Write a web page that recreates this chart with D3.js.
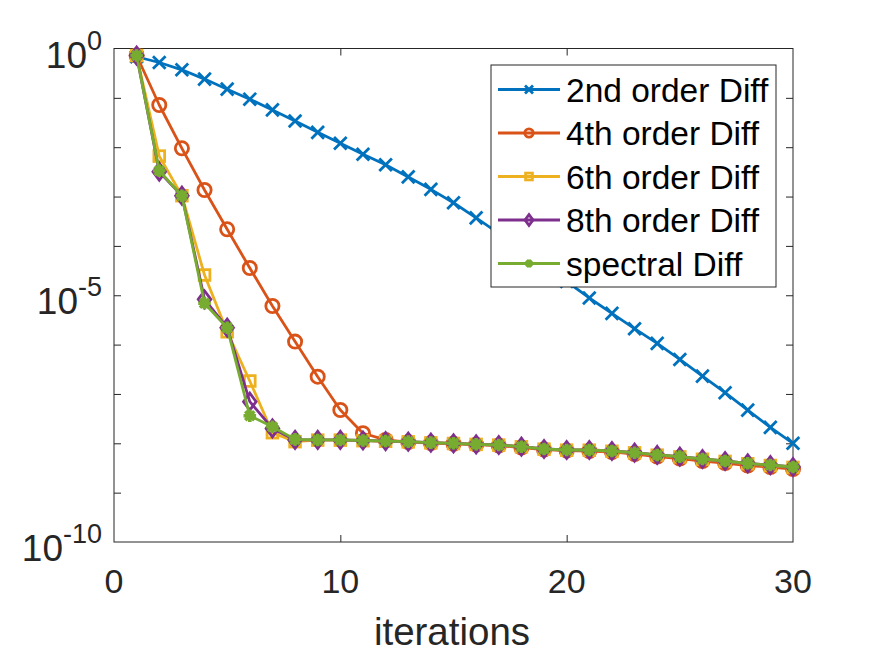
<!DOCTYPE html>
<html>
<head>
<meta charset="utf-8">
<script src="https://cdn.jsdelivr.net/npm/d3@7"></script>
<style>
  body { margin: 0; background: #fff; }
  svg { font-family: "Liberation Sans", Arial, sans-serif; }
</style>
</head>
<body>
<div id="chart"></div>
<script>
// Iterations (x values)
const iterations = [1, 2, 3, 4, 5, 6, 7, 8, 9, 10, 11, 12, 13, 14, 15, 16, 17, 18, 19, 20, 21, 22, 23, 24, 25, 26, 27, 28, 29, 30];

// Error per iteration
const diff2 = [0.68, 0.52, 0.37, 0.24, 0.15, 0.094, 0.057, 0.034, 0.020, 0.012, 7.2e-3, 4.4e-3, 2.5e-3, 1.4e-3, 7.5e-4,
  3.7e-4, 1.8e-4, 8.6e-5, 4.1e-5, 1.9e-5, 8.8e-6, 4.3e-6, 2.1e-6, 1.06e-6, 5.0e-7, 2.3e-7, 1.06e-7, 4.7e-8, 2.1e-8, 1.0e-8];
const diff4 = [0.72, 0.0716, 9.5e-3, 1.36e-3, 2.17e-4, 3.56e-5, 6.05e-6, 1.15e-6, 2.24e-7, 4.73e-8, 1.6e-8, 1.17e-8, 1.06e-8, 1.01e-8, 9.8e-9,
  9.37e-9, 9.02e-9, 8.22e-9, 7.48e-9, 7.08e-9, 6.98e-9, 6.67e-9, 6.07e-9, 5.4e-9, 4.92e-9, 4.38e-9, 3.99e-9, 3.55e-9, 3.31e-9, 3.01e-9];
const diff6 = [0.72, 6.6e-3, 1.04e-3, 2.57e-5, 1.82e-6, 1.83e-7, 1.64e-8, 1.08e-8, 1.16e-8, 1.16e-8, 1.13e-8, 1.1e-8, 1.07e-8, 1.02e-8, 9.9e-9,
  9.5e-9, 9.2e-9, 8.5e-9, 7.6e-9, 7.25e-9, 7.25e-9, 6.9e-9, 6.4e-9, 5.75e-9, 5.3e-9, 4.75e-9, 4.3e-9, 3.85e-9, 3.55e-9, 3.25e-9];
const diff8 = [0.72, 3.19e-3, 1.04e-3, 8.28e-6, 2.2e-6, 6.97e-8, 2.0e-8, 1.17e-8, 1.17e-8, 1.17e-8, 1.14e-8, 1.11e-8, 1.08e-8, 1.03e-8, 1.0e-8,
  9.55e-9, 9.24e-9, 8.53e-9, 7.67e-9, 7.32e-9, 7.32e-9, 6.98e-9, 6.45e-9, 5.8e-9, 5.36e-9, 4.81e-9, 4.38e-9, 3.93e-9, 3.63e-9, 3.31e-9];
const spectral = [0.72, 3.34e-3, 1.04e-3, 6.87e-6, 2.2e-6, 3.62e-8, 2.17e-8, 1.2e-8, 1.17e-8, 1.17e-8, 1.14e-8, 1.11e-8, 1.08e-8, 1.03e-8, 1.0e-8,
  9.55e-9, 9.24e-9, 8.53e-9, 7.67e-9, 7.32e-9, 7.32e-9, 6.98e-9, 6.45e-9, 5.8e-9, 5.36e-9, 4.81e-9, 4.38e-9, 3.93e-9, 3.63e-9, 3.31e-9];

const seriesNames = ["2nd order Diff", "4th order Diff", "6th order Diff", "8th order Diff", "spectral Diff"];
const seriesValues = [diff2, diff4, diff6, diff8, spectral];
const seriesColors = ["#0072BD", "#D95319", "#EDB120", "#7E2F8E", "#77AC30"];
const seriesMarkers = ["x", "circle", "square", "diamond", "asterisk"];

const xTicks = [0, 10, 20, 30];
const yDecades = [1, 1e-1, 1e-2, 1e-3, 1e-4, 1e-5, 1e-6, 1e-7, 1e-8, 1e-9, 1e-10];
const yLabels = [[1, "0"], [1e-5, "-5"], [1e-10, "-10"]];

// Dimensions
let W = 875, H = 657;
let pLeft = 114, pTop = 48.5, pRight = 793, pBottom = 542;

let svg = d3.select("#chart").append("svg").attr("width", W).attr("height", H);

let x = d3.scaleLinear().domain([0, 30]).range([pLeft, pRight]);
let y = d3.scaleLog().domain([1e-10, 1]).range([pBottom, pTop]);

// Axes (ticks point inward, box on)
let axisColor = "#262626";
function styleAxis(g) {
  g.select(".domain").remove();
  g.selectAll("line").attr("stroke", axisColor).attr("stroke-width", 1);
}
svg.append("g").attr("transform", "translate(0," + pBottom + ")")
  .call(d3.axisBottom(x).tickValues([10, 20]).tickSize(-7).tickFormat("")).call(styleAxis);
svg.append("g").attr("transform", "translate(0," + pTop + ")")
  .call(d3.axisTop(x).tickValues([10, 20]).tickSize(-7).tickFormat("")).call(styleAxis);
svg.append("g").attr("transform", "translate(" + pLeft + ",0)")
  .call(d3.axisLeft(y).tickValues(yDecades.slice(1, -1)).tickSize(-7).tickFormat("")).call(styleAxis);
svg.append("g").attr("transform", "translate(" + pRight + ",0)")
  .call(d3.axisRight(y).tickValues(yDecades.slice(1, -1)).tickSize(-7).tickFormat("")).call(styleAxis);
svg.append("rect").attr("x", pLeft).attr("y", pTop).attr("width", pRight - pLeft).attr("height", pBottom - pTop)
  .attr("fill", "none").attr("stroke", axisColor).attr("stroke-width", 1);

// Tick labels
svg.selectAll("text.xtick").data(xTicks).enter().append("text").attr("class", "xtick")
  .attr("x", (d) => x(d)).attr("y", 593).attr("text-anchor", "middle")
  .attr("font-size", 34).attr("fill", axisColor).text((d) => d);

yLabels.forEach((d) => {
  let t = svg.append("text").attr("x", pLeft - 12).attr("y", y(d[0]) + 19).attr("text-anchor", "end")
    .attr("font-size", 37).attr("fill", axisColor);
  t.append("tspan").text("10");
  t.append("tspan").attr("dy", -18).attr("font-size", 27).text(d[1]);
});

// X label
svg.append("text").attr("x", 452).attr("y", 645).attr("text-anchor", "middle")
  .attr("font-size", 38.5).attr("fill", axisColor).text("iterations");

// Marker drawing
function drawMarker(g, type, cx, cy, color, s) {
  if (type == "x") {
    g.append("path").attr("d", "M" + (cx - s) + "," + (cy - s) + "L" + (cx + s) + "," + (cy + s) + "M" + (cx - s) + "," + (cy + s) + "L" + (cx + s) + "," + (cy - s))
      .attr("stroke", color).attr("stroke-width", 2.8).attr("fill", "none");
  } else if (type == "circle") {
    g.append("circle").attr("cx", cx).attr("cy", cy).attr("r", s * 1.05).attr("stroke", color).attr("stroke-width", 2.8).attr("fill", "none");
  } else if (type == "square") {
    g.append("rect").attr("x", cx - s * 0.85).attr("y", cy - s * 0.85).attr("width", s * 1.7).attr("height", s * 1.7)
      .attr("stroke", color).attr("stroke-width", 2.8).attr("fill", "none");
  } else if (type == "diamond") {
    let a = s * 1.0, b = s * 1.35;
    g.append("path").attr("d", "M" + cx + "," + (cy - b) + "L" + (cx + a) + "," + cy + "L" + cx + "," + (cy + b) + "L" + (cx - a) + "," + cy + "Z")
      .attr("stroke", color).attr("stroke-width", 2.8).attr("fill", "none");
  } else if (type == "asterisk") {
    let d = s * 0.72;
    g.append("path").attr("d", "M" + (cx - s) + "," + cy + "L" + (cx + s) + "," + cy + "M" + cx + "," + (cy - s) + "L" + cx + "," + (cy + s)
      + "M" + (cx - d) + "," + (cy - d) + "L" + (cx + d) + "," + (cy + d) + "M" + (cx - d) + "," + (cy + d) + "L" + (cx + d) + "," + (cy - d))
      .attr("stroke", color).attr("stroke-width", 3.6).attr("fill", "none");
    g.append("circle").attr("cx", cx).attr("cy", cy).attr("r", s * 0.55).attr("fill", color);
  }
}

// Lines & markers
let line = d3.line().x((d) => x(d[0])).y((d) => y(d[1]));
for (let k = 0; k < seriesValues.length; k++) {
  let pts = iterations.map((it, i) => [it, seriesValues[k][i]]);
  let g = svg.append("g").attr("class", "series");
  g.append("path").attr("d", line(pts)).attr("fill", "none").attr("stroke", seriesColors[k])
    .attr("stroke-width", 2.8).attr("stroke-linejoin", "round");
  pts.forEach((p) => drawMarker(g, seriesMarkers[k], x(p[0]), y(p[1]), seriesColors[k], 6.3));
}

// Legend
let lg = svg.append("g").attr("class", "legend");
lg.append("rect").attr("x", 491).attr("y", 65).attr("width", 285).attr("height", 222)
  .attr("fill", "#fff").attr("stroke", axisColor).attr("stroke-width", 1);
for (let k = 0; k < seriesNames.length; k++) {
  let ly = 89.5 + k * 43.5;
  lg.append("line").attr("x1", 498).attr("x2", 560).attr("y1", ly).attr("y2", ly)
    .attr("stroke", seriesColors[k]).attr("stroke-width", 2.8);
  drawMarker(lg, seriesMarkers[k], 529, ly, seriesColors[k], 4);
  lg.append("text").attr("x", 566).attr("y", ly + 12).attr("font-size", 33.5).attr("fill", "#000").text(seriesNames[k]);
}
</script>
</body>
</html>
